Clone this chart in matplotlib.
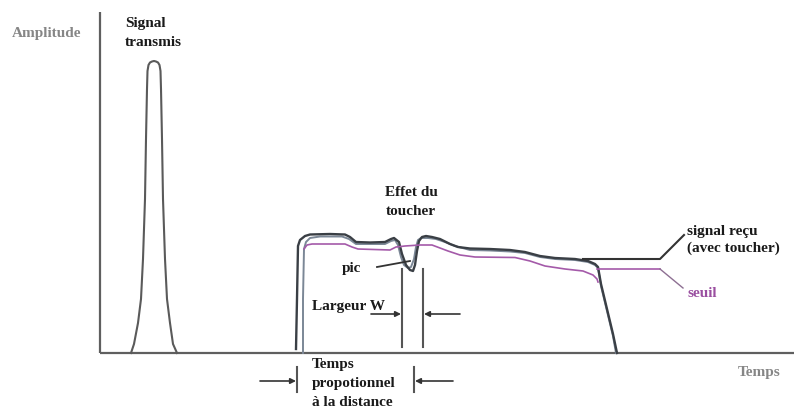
import matplotlib
matplotlib.use("Agg")
import matplotlib.pyplot as plt

# ---- data (time units ~ horizontal position, amplitude units above baseline) ----
pulse_t = [131, 134, 138, 141, 143, 145, 146, 147, 147.5, 148.5, 150, 152, 154,
           156, 158, 159.5, 160.5, 161, 162, 163, 165, 167, 170, 173, 177]
pulse_a = [0, 9, 30, 54, 94, 154, 214, 264, 282, 288, 290.5, 291.5, 292,
           291.5, 290.5, 288, 282, 264, 214, 154, 94, 54, 30, 9, 0]

recv_t = [296, 297, 298, 300, 305, 310, 330, 345, 350, 356, 370, 385, 391,
          394, 399, 402, 406, 410, 413, 415, 417, 419, 422, 426, 432, 440, 450,
          458, 470, 490, 510, 525, 540, 555, 575, 588, 595, 598, 601, 607, 613, 617]
recv_a = [4, 54, 107, 113, 117, 118.5, 119, 118.5, 116, 111, 110.5, 111, 114,
          115, 111, 99, 88, 83, 82, 88, 102, 112, 116, 117, 116, 114, 109,
          106, 104.5, 104, 103, 101, 97, 95, 94, 92, 89, 86, 69, 44, 19, 0]

recv2_t = [303, 303, 304, 306, 310, 320, 342, 349, 356, 385, 391, 395, 398, 401,
           404, 408, 411, 414, 416, 418, 421, 428, 436, 445, 455, 470, 490, 510,
           525, 540, 555, 575, 588, 595, 598, 601, 607, 613, 616]
recv2_a = [0, 54, 104, 111, 115, 116.5, 116.5, 114, 109, 109, 112, 113, 108, 96,
           88, 85, 86, 94, 106, 113, 115, 115, 114, 111, 107, 103, 102.5, 101.5,
           100, 96, 94, 93, 91, 88, 85, 67, 42, 17, 0]

seuil_t = [304, 307, 312, 345, 352, 358, 390, 396, 405, 420, 432, 440, 448, 460,
           475, 515, 530, 545, 565, 583, 593, 597, 598]
seuil_a = [104, 108, 109, 109, 106, 104, 103, 106, 107, 108, 108, 105, 102, 98,
           96, 95.5, 92, 87, 84, 82, 78, 74, 71]

BASE = 354  # baseline pixel row


def P(x, y):
    """pixel position -> data coordinates"""
    return x, BASE - y


fig = plt.figure(figsize=(7.94, 4.10), dpi=100)
ax = fig.add_axes([0, 0, 1, 1])
ax.set_xlim(0, 794)
ax.set_ylim(BASE - 410, BASE)
ax.axis("off")

axis_c = "#5f5f5f"
dark = "#3a3f45"
blue = "#7b8796"
mag = "#a45aa9"
serif = ["Liberation Serif", "DejaVu Serif"]

# axes lines
ax.plot([100, 100], [0, BASE - 13], color=axis_c, lw=1.6, solid_capstyle="butt")
ax.plot([100, 794], [0, 0], color=axis_c, lw=1.6, solid_capstyle="butt")

# transmitted pulse
ax.plot(pulse_t, pulse_a, color="#5a5a5a", lw=1.5, solid_joinstyle="round")

# received signals
ax.plot(recv2_t, recv2_a, color=blue, lw=1.4, solid_joinstyle="round")
ax.plot(recv_t, recv_a, color=dark, lw=1.7, solid_joinstyle="round")
ax.plot(seuil_t, seuil_a, color=mag, lw=1.2, solid_joinstyle="round")

# label leaders
ax.plot(*zip(P(583, 260), P(660, 260), P(684, 236)), color="#333333", lw=1.5)
ax.plot(*zip(P(597, 270), P(660, 270)), color=mag, lw=1.2)
ax.plot(*zip(P(660, 270), P(683, 289)), color="#8d6f92", lw=1.0)
ax.plot(*zip(P(377, 268), P(410, 262)), color="#333333", lw=1.3)

# width W markers
for xv in (402, 423):
    ax.plot(*zip(P(xv, 270), P(xv, 348)), color="#555555", lw=1.5)
arr = dict(arrowstyle="-|>", mutation_scale=8, lw=1.2, color="#333333",
           shrinkA=0, shrinkB=0)
ax.annotate("", xy=P(401, 315), xytext=P(371, 315), arrowprops=arr)
ax.annotate("", xy=P(424, 315), xytext=P(460, 315), arrowprops=arr)

# time-of-flight markers
for xv in (297, 414):
    ax.plot(*zip(P(xv, 368), P(xv, 393)), color="#555555", lw=1.5)
ax.annotate("", xy=P(296, 382), xytext=P(260, 382), arrowprops=arr)
ax.annotate("", xy=P(415, 382), xytext=P(453, 382), arrowprops=arr)

# texts
fs = 11
ax.text(*P(12, 33), "Amplitude", fontsize=fs, fontweight="bold", color="#868686",
        family=serif, va="center", ha="left")
ax.text(*P(738, 373), "Temps", fontsize=fs, fontweight="bold", color="#868686",
        family=serif, va="center", ha="left")
ax.text(*P(125, 23), "Signal", fontsize=fs, fontweight="bold", color="#1a1a1a",
        family=serif, va="center", ha="left")
ax.text(*P(125, 43), "transmis", fontsize=fs, fontweight="bold", color="#1a1a1a",
        family=serif, va="center", ha="left")
ax.text(*P(411, 193), "Effet du", fontsize=fs, fontweight="bold", color="#1a1a1a",
        family=serif, va="center", ha="center")
ax.text(*P(411, 212), "toucher", fontsize=fs, fontweight="bold", color="#1a1a1a",
        family=serif, va="center", ha="center")
ax.text(*P(342, 269), "pic", fontsize=fs, fontweight="bold", color="#1a1a1a",
        family=serif, va="center", ha="left")
ax.text(*P(312, 307), "Largeur W", fontsize=fs, fontweight="bold", color="#1a1a1a",
        family=serif, va="center", ha="left")
ax.text(*P(687, 232), "signal reçu", fontsize=fs, fontweight="bold", color="#1a1a1a",
        family=serif, va="center", ha="left")
ax.text(*P(687, 248), "(avec toucher)", fontsize=fs, fontweight="bold", color="#1a1a1a",
        family=serif, va="center", ha="left")
ax.text(*P(687, 294), "seuil", fontsize=fs, fontweight="bold", color="#9a4fa0",
        family=serif, va="center", ha="left")
for i, s in enumerate(["Temps", "propotionnel", "à la distance"]):
    ax.text(*P(312, 365 + 19 * i), s, fontsize=fs, fontweight="bold",
            color="#1a1a1a", family=serif, va="center", ha="left")

fig.savefig("out.png", dpi=100)
